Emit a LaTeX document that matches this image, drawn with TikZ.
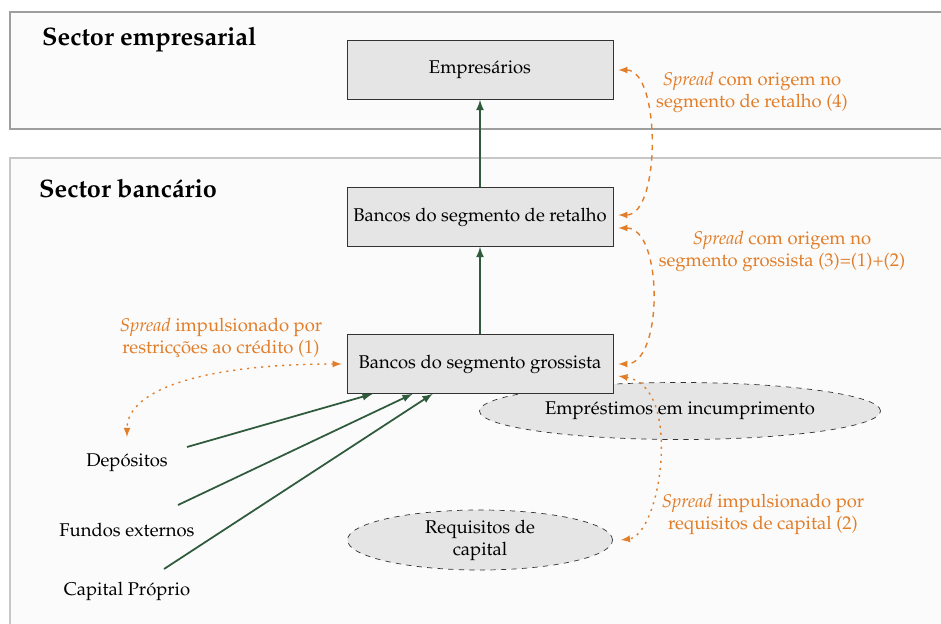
\documentclass[tikz,border=0pt]{standalone}
\usepackage[T1]{fontenc}
\usepackage{mathpazo}
\usepackage{xcolor}
\usetikzlibrary{shapes.geometric}
\usetikzlibrary{positioning}
\usetikzlibrary{calc}
\definecolor{spreadorange}{RGB}{226,125,40}
\definecolor{flowgreen}{RGB}{47,90,60}
\definecolor{panelfill}{RGB}{251,251,251}
\tikzset{
	bankbox/.style={draw=black!80, fill=black!10, minimum width=5.32cm, minimum height=1.18cm},
	riskellipse/.style={ellipse, draw=black!80, dashed, fill=black!10, inner sep=0pt},
	flow/.style={-latex, line width=1pt, color=flowgreen},
	spreadlink/.style={latex-latex, line width=0.8pt, color=spreadorange},
	spreadlabel/.style={color=spreadorange, align=center},
	sectortitle/.style={anchor=west, font=\Large\bfseries},
}

\begin{document}
\begin{tikzpicture}[every node/.style={font=\fontsize{10.5}{12.6}\selectfont}]
	\useasboundingbox (0,0) rectangle (18.82,-12.46);

	% panels
	\filldraw[fill=panelfill, draw=black!38, line width=1.1pt] (0.2,-0.24) rectangle (19.2,-2.58);
	\filldraw[fill=panelfill, draw=black!22, line width=1pt] (0.2,-3.16) rectangle (19.2,-12.8);
	\node[sectortitle] (titleemp) at (0.72,-0.80) {Sector empresarial};
	\node[sectortitle] (titleban) at (0.66,-3.76) {Sector banc\'ario};

	% ellipses (behind the boxes)
	\node[riskellipse, minimum width=8.02cm, minimum height=1.14cm] (incump) at (13.6,-8.22) {Empr\'estimos em incumprimento};
	\node[riskellipse, minimum width=5.3cm, minimum height=1.2cm, align=center] (req) at (9.6,-10.8) {Requisitos de\\capital};

	% boxes
	\node[bankbox] (emp) at (9.6,-1.40) {Empres\'arios};
	\node[bankbox] (ret) at (9.6,-4.34) {Bancos do segmento de retalho};
	\node[bankbox] (gros) at (9.6,-7.28) {Bancos do segmento grossista};

	\draw[flow] (ret) -- (emp);
	\draw[flow] (gros) -- (ret);

	% funding sources
	\node (dep) at (2.54,-9.26) {Dep\'ositos};
	\node (fund) at (2.54,-10.60) {Fundos externos};
	\node (cap) at (2.54,-11.82) {Capital Pr\'oprio};
	\coordinate (depout) at (3.74,-8.94);
	\coordinate (fundout) at (3.56,-10.10);
	\coordinate (capout) at (3.28,-11.38);
	\draw[flow] (depout) -- ([xshift=0.52cm]gros.south west);
	\draw[flow] (fundout) -- ([xshift=1.32cm]gros.south west);
	\draw[flow] (capout) -- ([xshift=1.72cm]gros.south west);

	% spreads
	\draw[spreadlink, dashed] ([xshift=0.1cm]emp.east) .. controls +(0.85,0) and +(0.85,0) .. ([xshift=0.1cm, yshift=0.04cm]ret.east);
	\draw[spreadlink, dashed] ([xshift=0.1cm, yshift=-0.22cm]ret.east) .. controls +(0.9,0) and +(0.9,0) .. ([xshift=0.1cm]gros.east);
	\draw[spreadlink, dash pattern=on 1.2pt off 2.8pt] ([xshift=0.1cm, yshift=-0.24cm]gros.east) .. controls +(1.3,-0.2) and +(0.8,0.1) .. ([xshift=0.16cm]req.east);
	\coordinate (depin) at (2.54,-8.74);
	\draw[spreadlink, dash pattern=on 1.2pt off 2.8pt] ([xshift=-0.1cm]gros.west) .. controls +(-2.6,0) and +(0,1.0) .. (depin);

	\node[spreadlabel] (sp4) at (15.04,-1.84) {\emph{Spread} com origem no\\segmento de retalho (4)};
	\node[spreadlabel] (sp3) at (15.64,-5.02) {\emph{Spread} com origem no\\segmento grossista (3)=(1)+(2)};
	\node[spreadlabel] (sp1) at (4.42,-6.76) {\emph{Spread} impulsionado por\\restric\c{c}\~oes ao cr\'edito (1)};
	\node[spreadlabel] (sp2) at (15.26,-10.28) {\emph{Spread} impulsionado por\\requisitos de capital (2)};
\end{tikzpicture}
\end{document}
